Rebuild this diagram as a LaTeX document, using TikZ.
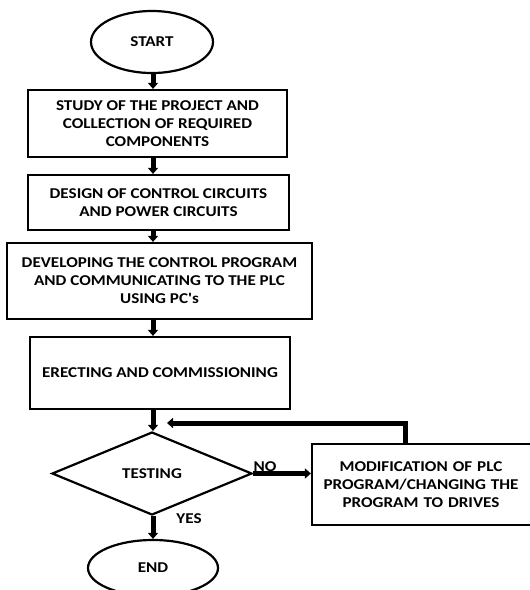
\documentclass[tikz,border=0pt]{standalone}
\usepackage{fontspec}
\newfontfamily\flowfont{Carlito}[FakeStretch=1.14]
\usetikzlibrary{shapes.geometric,arrows.meta,calc}
\begin{document}
\begin{tikzpicture}[x=1pt,y=-1pt,
  txt/.style={font=\flowfont\fontsize{15}{18}\selectfont\bfseries, align=center},
  box/.style={txt, draw, line width=2.2pt, inner sep=0pt},
  term/.style={txt, draw, ellipse, line width=2.2pt, inner sep=0pt},
  arr/.style={line width=5pt, -{Triangle[width=10pt,length=6pt]}},
  lbl/.style={txt, inner sep=0pt}]
\clip (0,0) rectangle (530,590);
\fill[white] (0,0) rectangle (530,590);
\coordinate (spine) at (153,0);
\node[term, minimum width=122pt, minimum height=62pt] (start) at (152,42) {START};
\node[box, minimum width=259pt, minimum height=67pt] (b1) at (157.5,123.5)
  {STUDY OF THE PROJECT AND\\COLLECTION OF REQUIRED\\COMPONENTS};
\node[box, minimum width=261pt, minimum height=55pt] (b2) at (158.5,202.5)
  {DESIGN OF CONTROL CIRCUITS\\AND POWER CIRCUITS};
\node[box, minimum width=305pt, minimum height=76pt] (b3) at (159.5,281)
  {DEVELOPING THE CONTROL PROGRAM\\AND COMMUNICATING TO THE PLC\\USING PC's};
\node[box, minimum width=260pt, minimum height=72pt] (b4) at (160,373)
  {ERECTING AND COMMISSIONING};
\node[txt, draw, diamond, line width=2.2pt, inner sep=0pt, minimum width=200pt, minimum height=83pt] (test) at (152,473.5) {TESTING};
\node[box, minimum width=226pt, minimum height=81pt, text width=215pt] (mod) at (425,484.5)
  {\hspace*{-8pt}MODIFICATION OF PLC\\\hspace*{-8pt}PROGRAM/CHANGING THE\\\hspace*{-8pt}PROGRAM TO DRIVES};
\node[term, minimum width=130pt, minimum height=56pt] (end) at (153,568) {END};
\node[lbl] (no) at (265,467) {NO};
\node[lbl] (yes) at (189,519) {YES};
\coordinate (fb) at (167,423);
\draw[arr] (start.south -| spine) -- (b1.north -| spine);
\draw[arr] (b1.south -| spine) -- (b2.north -| spine);
\draw[arr] (b2.south -| spine) -- (b3.north -| spine);
\draw[arr] (b3.south -| spine) -- (b4.north -| spine);
\draw[arr] (b4.south -| spine) -- (test.north -| spine);
\draw[arr] (test.south -| spine) -- (end.north -| spine);
\draw[arr] (test.east) -- (mod.west |- test.east);
\draw[arr] ($(mod.north west)+(95,0)$) |- (fb);
\end{tikzpicture}
\end{document}
